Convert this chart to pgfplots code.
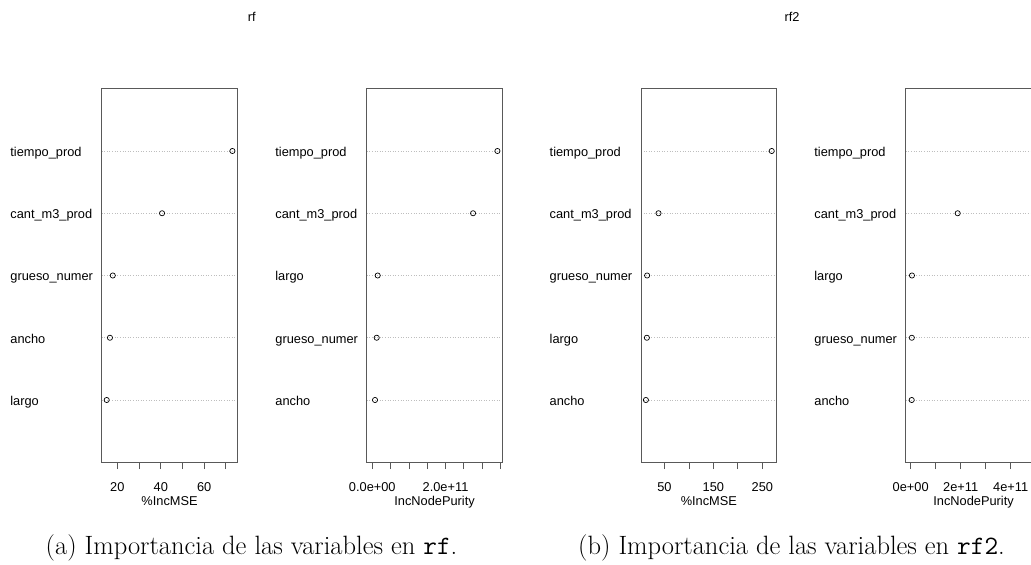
\documentclass[border=0pt]{standalone}
\usepackage{fontspec}
\usepackage{pgfplots}
\pgfplotsset{compat=1.18}
\newfontfamily\arial{Liberation Sans}
\definecolor{boxgray}{gray}{0.35}
\definecolor{rgray}{HTML}{BEBEBE}
\pgfplotsset{
  dotpanel/.style={
    scale only axis, width=135.7pt, height=373.5pt, anchor=south west,
    ymin=0, ymax=6, ytick={1,2,3,4,5},
    ymajorgrids, y grid style={rgray, line width=0.7pt, dash pattern=on 1pt off 1.6pt},
    ytick style={draw=none},
    axis line style={boxgray, line width=0.8pt},
    xtick style={boxgray, line width=0.8pt},
    tick align=outside, major tick length=7pt,
    xtick pos=bottom,
    ticklabel style={font=\arial\fontsize{12.8}{15}\selectfont, text=black},
    xticklabel style={anchor=base, inner sep=0pt, yshift=-22.5pt},
    yticklabel style={anchor=base west, inner sep=0pt, xshift=-84.5pt, yshift=-5.5pt},
    xlabel style={font=\arial\fontsize{12.8}{15}\selectfont, anchor=base, inner sep=0pt,
                  at={(axis description cs:0.5,0)}, yshift=-43pt},
    scaled ticks=false,
    clip=false,
  },
  dots/.style={only marks, mark=o, mark size=2.6pt, mark options={black, line width=0.7pt}},
}
\begin{document}
\begin{tikzpicture}
\path[use as bounding box] (0pt,0pt) rectangle (1031pt,565pt);
% ---------- rf : %IncMSE
\begin{axis}[dotpanel, at={(101.7pt,102.75pt)},
  xmin=12.8, xmax=75.3, xtick={20,30,40,50,60,70},
  xticklabels={20,,40,,60,},
  yticklabels={largo,ancho,grueso\_numer,cant\_m3\_prod,tiempo\_prod},
  xlabel={\%IncMSE}]
\addplot[dots] coordinates {(15.1,1) (16.6,2) (17.9,3) (40.6,4) (73.0,5)};
\end{axis}
% ---------- rf : IncNodePurity
\begin{axis}[dotpanel, at={(366.7pt,102.75pt)},
  xmin=-0.153e11, xmax=3.553e11,
  xtick={0,0.5e11,1e11,1.5e11,2e11,2.5e11,3e11,3.5e11},
  xticklabels={0.0e+00,,,,2.0e+11,,,},
  yticklabels={ancho,grueso\_numer,largo,cant\_m3\_prod,tiempo\_prod},
  xlabel={IncNodePurity}]
\addplot[dots] coordinates {(0.074e11,1) (0.120e11,2) (0.147e11,3) (2.752e11,4) (3.417e11,5)};
\end{axis}
% ---------- rf2 : %IncMSE
\begin{axis}[dotpanel, at={(641pt,102.75pt)},
  xmin=2.0, xmax=279.4, xtick={50,100,150,200,250},
  xticklabels={50,,150,,250},
  yticklabels={ancho,largo,grueso\_numer,cant\_m3\_prod,tiempo\_prod},
  xlabel={\%IncMSE}]
\addplot[dots] coordinates {(12.0,1) (14.0,2) (14.5,3) (37.8,4) (269.2,5)};
\end{axis}
% ---------- rf2 : IncNodePurity
\begin{axis}[dotpanel, at={(905.7pt,102.75pt)},
  xmin=-0.2e11, xmax=5.23e11,
  xtick={0,1e11,2e11,3e11,4e11,5e11},
  xticklabels={0e+00,,2e+11,,4e+11,},
  yticklabels={ancho,grueso\_numer,largo,cant\_m3\_prod,tiempo\_prod},
  xlabel={IncNodePurity}]
\addplot[dots] coordinates {(0.04e11,1) (0.045e11,2) (0.05e11,3) (1.88e11,4) (5.0e11,5)};
\end{axis}
% titles and captions
\node[anchor=base, inner sep=0pt, font=\arial\fontsize{12.8}{15}\selectfont] at (251.7pt,543.3pt) {rf};
\node[anchor=base, inner sep=0pt, font=\arial\fontsize{12.8}{15}\selectfont] at (792pt,543.3pt) {rf2};
\node[anchor=base, inner sep=0pt, font=\fontsize{26.5}{32}\selectfont] at (251.5pt,10pt) {(a) Importancia de las variables en \texttt{rf}.};
\node[anchor=base, inner sep=0pt, font=\fontsize{26.5}{32}\selectfont] at (791.5pt,10pt) {(b) Importancia de las variables en \texttt{rf2}.};
\end{tikzpicture}
\end{document}
